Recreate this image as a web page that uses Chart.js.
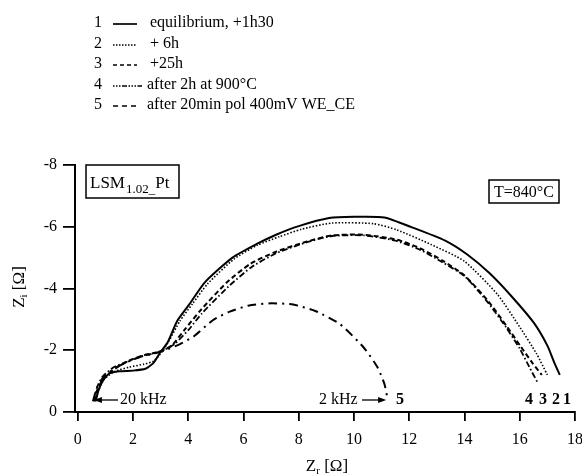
<!DOCTYPE html>
<html>
<head>
<meta charset="utf-8">
<title>LSM 1.02 Pt impedance</title>
<script src="https://cdn.jsdelivr.net/npm/chart.js@4"></script>
<style>
  html, body { margin: 0; padding: 0; background: #fff; }
  #wrap { width: 582px; height: 475px; position: relative; }
</style>
</head>
<body>
<div id="wrap"><canvas id="nyquist"></canvas></div>
<script>
// Impedance spectra (Zr, Zi), Zi is negative
const labels = ["equilibrium, +1h30", "+ 6h", "+25h", "after 2h at 900\u00b0C", "after 20min pol 400mV WE_CE"];

const zr1 = [0.65, 0.75, 0.9, 1.15, 1.5, 2.0, 2.45, 2.75, 3.0, 3.25, 3.6, 4.05, 4.6, 5.6, 6.5, 7.2, 8.0, 9.1, 10.0, 11.1, 12.1, 13.3, 14.1, 14.9, 15.7, 16.5, 17.0, 17.25, 17.45];
const zi1 = [-0.35, -0.7, -1.0, -1.25, -1.32, -1.34, -1.4, -1.6, -1.95, -2.25, -2.95, -3.5, -4.2, -5.0, -5.45, -5.75, -6.02, -6.28, -6.32, -6.3, -5.98, -5.55, -5.1, -4.5, -3.75, -2.9, -2.15, -1.6, -1.2];

const zr2 = [0.62, 0.75, 0.95, 1.3, 1.85, 2.4, 2.75, 3.05, 3.3, 3.7, 4.15, 4.7, 5.65, 6.5, 7.3, 8.1, 9.2, 10.7, 11.55, 12.8, 14.0, 15.2, 16.0, 16.6, 17.0];
const zi2 = [-0.35, -0.7, -1.05, -1.3, -1.45, -1.55, -1.65, -1.95, -2.3, -2.95, -3.5, -4.15, -4.95, -5.4, -5.68, -5.92, -6.12, -6.1, -5.9, -5.42, -4.88, -3.8, -2.75, -1.9, -1.2];

const zr3 = [0.6, 0.72, 0.95, 1.35, 1.75, 2.3, 2.8, 3.1, 3.4, 3.9, 4.45, 5.4, 6.25, 7.2, 8.3, 9.2, 10.35, 11.55, 12.4, 13.25, 14.0, 14.85, 15.55, 16.05, 16.45, 16.8];
const zi3 = [-0.35, -0.75, -1.1, -1.4, -1.62, -1.82, -1.92, -2.0, -2.15, -2.7, -3.3, -4.2, -4.8, -5.2, -5.52, -5.72, -5.74, -5.58, -5.3, -4.88, -4.42, -3.6, -2.75, -2.1, -1.6, -1.2];

const zr4 = [0.58, 0.7, 0.9, 1.3, 1.7, 2.3, 2.75, 3.1, 3.5, 4.0, 4.5, 5.5, 6.3, 7.2, 8.3, 9.2, 10.35, 11.5, 12.4, 13.2, 14.0, 14.8, 15.5, 16.0, 16.35, 16.65];
const zi4 = [-0.35, -0.8, -1.15, -1.45, -1.6, -1.8, -1.9, -2.0, -2.2, -2.65, -3.2, -4.1, -4.7, -5.15, -5.5, -5.7, -5.72, -5.55, -5.25, -4.85, -4.4, -3.6, -2.75, -2.05, -1.45, -0.95];

const zr5 = [0.55, 0.7, 0.95, 1.4, 1.8, 2.3, 2.8, 3.1, 3.7, 4.2, 4.9, 5.5, 6.2, 7.0, 7.8, 8.6, 9.5, 10.35, 10.85, 11.1, 11.2];
const zi5 = [-0.35, -0.8, -1.15, -1.45, -1.62, -1.8, -1.9, -1.98, -2.2, -2.45, -2.98, -3.25, -3.45, -3.52, -3.48, -3.27, -2.84, -2.09, -1.45, -0.91, -0.5];

const xTicks = [0, 2, 4, 6, 8, 10, 12, 14, 16, 18];
const yTicks = [-8, -6, -4, -2, 0];

// line styles, same order as the curves
const dashes = [[], [1.5, 1.8], [5, 3], [6, 2.5, 1.5, 2.5], [9, 5, 2, 5]];
const widths = [2, 1.6, 2, 1.8, 2];
// the legend samples are drawn a bit differently in the original
const legendDashes = [[], [1.5, 1.5], [4, 3], [1.5, 1.5, 1.5, 1.5, 1.5, 1.5, 5, 1.5], [5, 4]];

const SERIF = "'Liberation Serif', 'DejaVu Serif', serif";

function toPoints(xs, ys) {
  return xs.map((x, i) => ({ x: x, y: ys[i] }));
}

const curves = [[zr1, zi1], [zr2, zi2], [zr3, zi3], [zr4, zi4], [zr5, zi5]];

// legend, boxes, arrows and axis titles drawn on the canvas
const paperDecor = {
  id: "paperDecor",
  afterDraw(chart) {
    const c = chart.ctx;
    const xs = chart.scales.x;
    c.save();
    c.fillStyle = "#000";
    c.strokeStyle = "#000";
    c.textBaseline = "middle";

    // legend
    const legY = [23, 44, 64, 85, 105];
    for (let i = 0; i < labels.length; i++) {
      c.font = "16px " + SERIF;
      c.textAlign = "left";
      c.fillText(String(i + 1), 94, legY[i]);
      c.beginPath();
      c.setLineDash(legendDashes[i]);
      c.lineWidth = i === 1 ? 1.4 : 1.7;
      c.moveTo(113, legY[i] + 1);
      c.lineTo(i === 3 ? 142 : 137, legY[i] + 1);
      c.stroke();
      c.setLineDash([]);
      c.fillText(labels[i], i === 3 || i === 4 ? 147 : 150, legY[i]);
    }

    // sample box
    c.lineWidth = 1.5;
    c.strokeRect(86, 165, 93, 33);
    c.font = "17px " + SERIF;
    c.textBaseline = "alphabetic";
    c.fillText("LSM", 90, 188);
    let w = c.measureText("LSM").width;
    c.font = "13px " + SERIF;
    c.fillText("1.02_", 90 + w + 1, 193);
    let w2 = c.measureText("1.02_").width;
    c.font = "17px " + SERIF;
    c.fillText("Pt", 90 + w + w2 + 1, 188);

    // temperature box
    c.strokeRect(489, 180, 70, 23);
    c.font = "16px " + SERIF;
    c.textAlign = "center";
    c.fillText("T=840\u00b0C", 524, 197);

    // 20 kHz marker
    const ay = 400;
    const a20 = xs.getPixelForValue(zr5[0]);
    c.lineWidth = 1.3;
    c.beginPath();
    c.moveTo(a20 + 6, ay);
    c.lineTo(118, ay);
    c.stroke();
    c.beginPath();
    c.moveTo(a20 + 1, ay);
    c.lineTo(a20 + 9, ay - 3);
    c.lineTo(a20 + 9, ay + 3);
    c.closePath();
    c.fill();
    c.textAlign = "left";
    c.textBaseline = "middle";
    c.font = "16px " + SERIF;
    c.fillText("20 kHz", 120, ay);

    // 2 kHz marker for curve 5
    const a2 = xs.getPixelForValue(zr5[zr5.length - 1]);
    c.fillText("2 kHz", 319, ay);
    c.beginPath();
    c.moveTo(362, ay);
    c.lineTo(a2 - 6, ay);
    c.stroke();
    c.beginPath();
    c.moveTo(a2 - 1, ay);
    c.lineTo(a2 - 9, ay - 3);
    c.lineTo(a2 - 9, ay + 3);
    c.closePath();
    c.fill();

    // curve numbers at the low-frequency ends
    c.font = "bold 16px " + SERIF;
    c.fillText("5", 396, ay);
    c.fillText("4", 525, ay);
    c.fillText("3", 539, ay);
    c.fillText("2", 552, ay);
    c.fillText("1", 563, ay);

    // axis titles with subscripts
    c.font = "17px " + SERIF;
    c.textBaseline = "alphabetic";
    c.textAlign = "left";
    const xt = "Z";
    const xw = c.measureText(xt).width;
    const rest = " [\u03a9]";
    c.font = "11px " + SERIF;
    const sw = c.measureText("r").width;
    c.font = "17px " + SERIF;
    const total = xw + sw + c.measureText(rest).width;
    let x0 = (xs.left + xs.right) / 2 - total / 2 + 2;
    c.fillText(xt, x0, 471);
    c.font = "11px " + SERIF;
    c.fillText("r", x0 + xw, 474);
    c.font = "17px " + SERIF;
    c.fillText(rest, x0 + xw + sw, 471);

    c.translate(24, 287);
    c.rotate(-Math.PI / 2);
    const yw = c.measureText("Z").width;
    c.font = "11px " + SERIF;
    const iw = c.measureText("i").width;
    c.font = "17px " + SERIF;
    const ytot = yw + iw + c.measureText(rest).width;
    let y0 = -ytot / 2;
    c.fillText("Z", y0, 0);
    c.font = "11px " + SERIF;
    c.fillText("i", y0 + yw, 3);
    c.font = "17px " + SERIF;
    c.fillText(rest, y0 + yw + iw, 0);

    c.restore();
  },
};

document.addEventListener("DOMContentLoaded", function () {
  const ctx = document.getElementById("nyquist").getContext("2d");

  const datasets = curves.map((cv, i) => ({
    label: labels[i],
    data: toPoints(cv[0], cv[1]),
    showLine: true,
    borderColor: "#000",
    backgroundColor: "#000",
    borderWidth: widths[i],
    borderDash: dashes[i],
    pointRadius: 0,
    tension: 0.2,
    fill: false,
  }));

  new Chart(ctx, {
    type: "scatter",
    data: { datasets: datasets },
    options: {
      responsive: true,
      maintainAspectRatio: false,
      animation: false,
      layout: { padding: { top: 165, right: 7, left: 0, bottom: 0 } },
      plugins: {
        legend: { display: false },
        tooltip: { enabled: false },
      },
      scales: {
        x: {
          type: "linear",
          min: -0.1,
          max: 18,
          afterBuildTicks: (s) => { s.ticks = xTicks.map((v) => ({ value: v })); },
          afterFit: (s) => { s.height = 63; s.paddingLeft = 0; s.paddingRight = 0; },
          ticks: {
            color: "#000",
            font: { family: SERIF, size: 16 },
            padding: 9,
            maxRotation: 0,
          },
          grid: { drawOnChartArea: false, drawTicks: true, tickLength: 9, color: "#000", lineWidth: 1.8 },
          border: { color: "#000", width: 2 },
        },
        y: {
          type: "linear",
          reverse: true,
          min: -8,
          max: 0,
          afterBuildTicks: (s) => { s.ticks = yTicks.map((v) => ({ value: v })); },
          afterFit: (s) => { s.width = 75; },
          ticks: {
            color: "#000",
            font: { family: SERIF, size: 16 },
            padding: 6,
            callback: (v) => (v === 0 ? "0" : String(v)),
          },
          grid: { drawOnChartArea: false, drawTicks: true, tickLength: 12, color: "#000", lineWidth: 1.8 },
          border: { color: "#000", width: 2 },
        },
      },
    },
    plugins: [paperDecor],
  });
});
</script>
</body>
</html>
